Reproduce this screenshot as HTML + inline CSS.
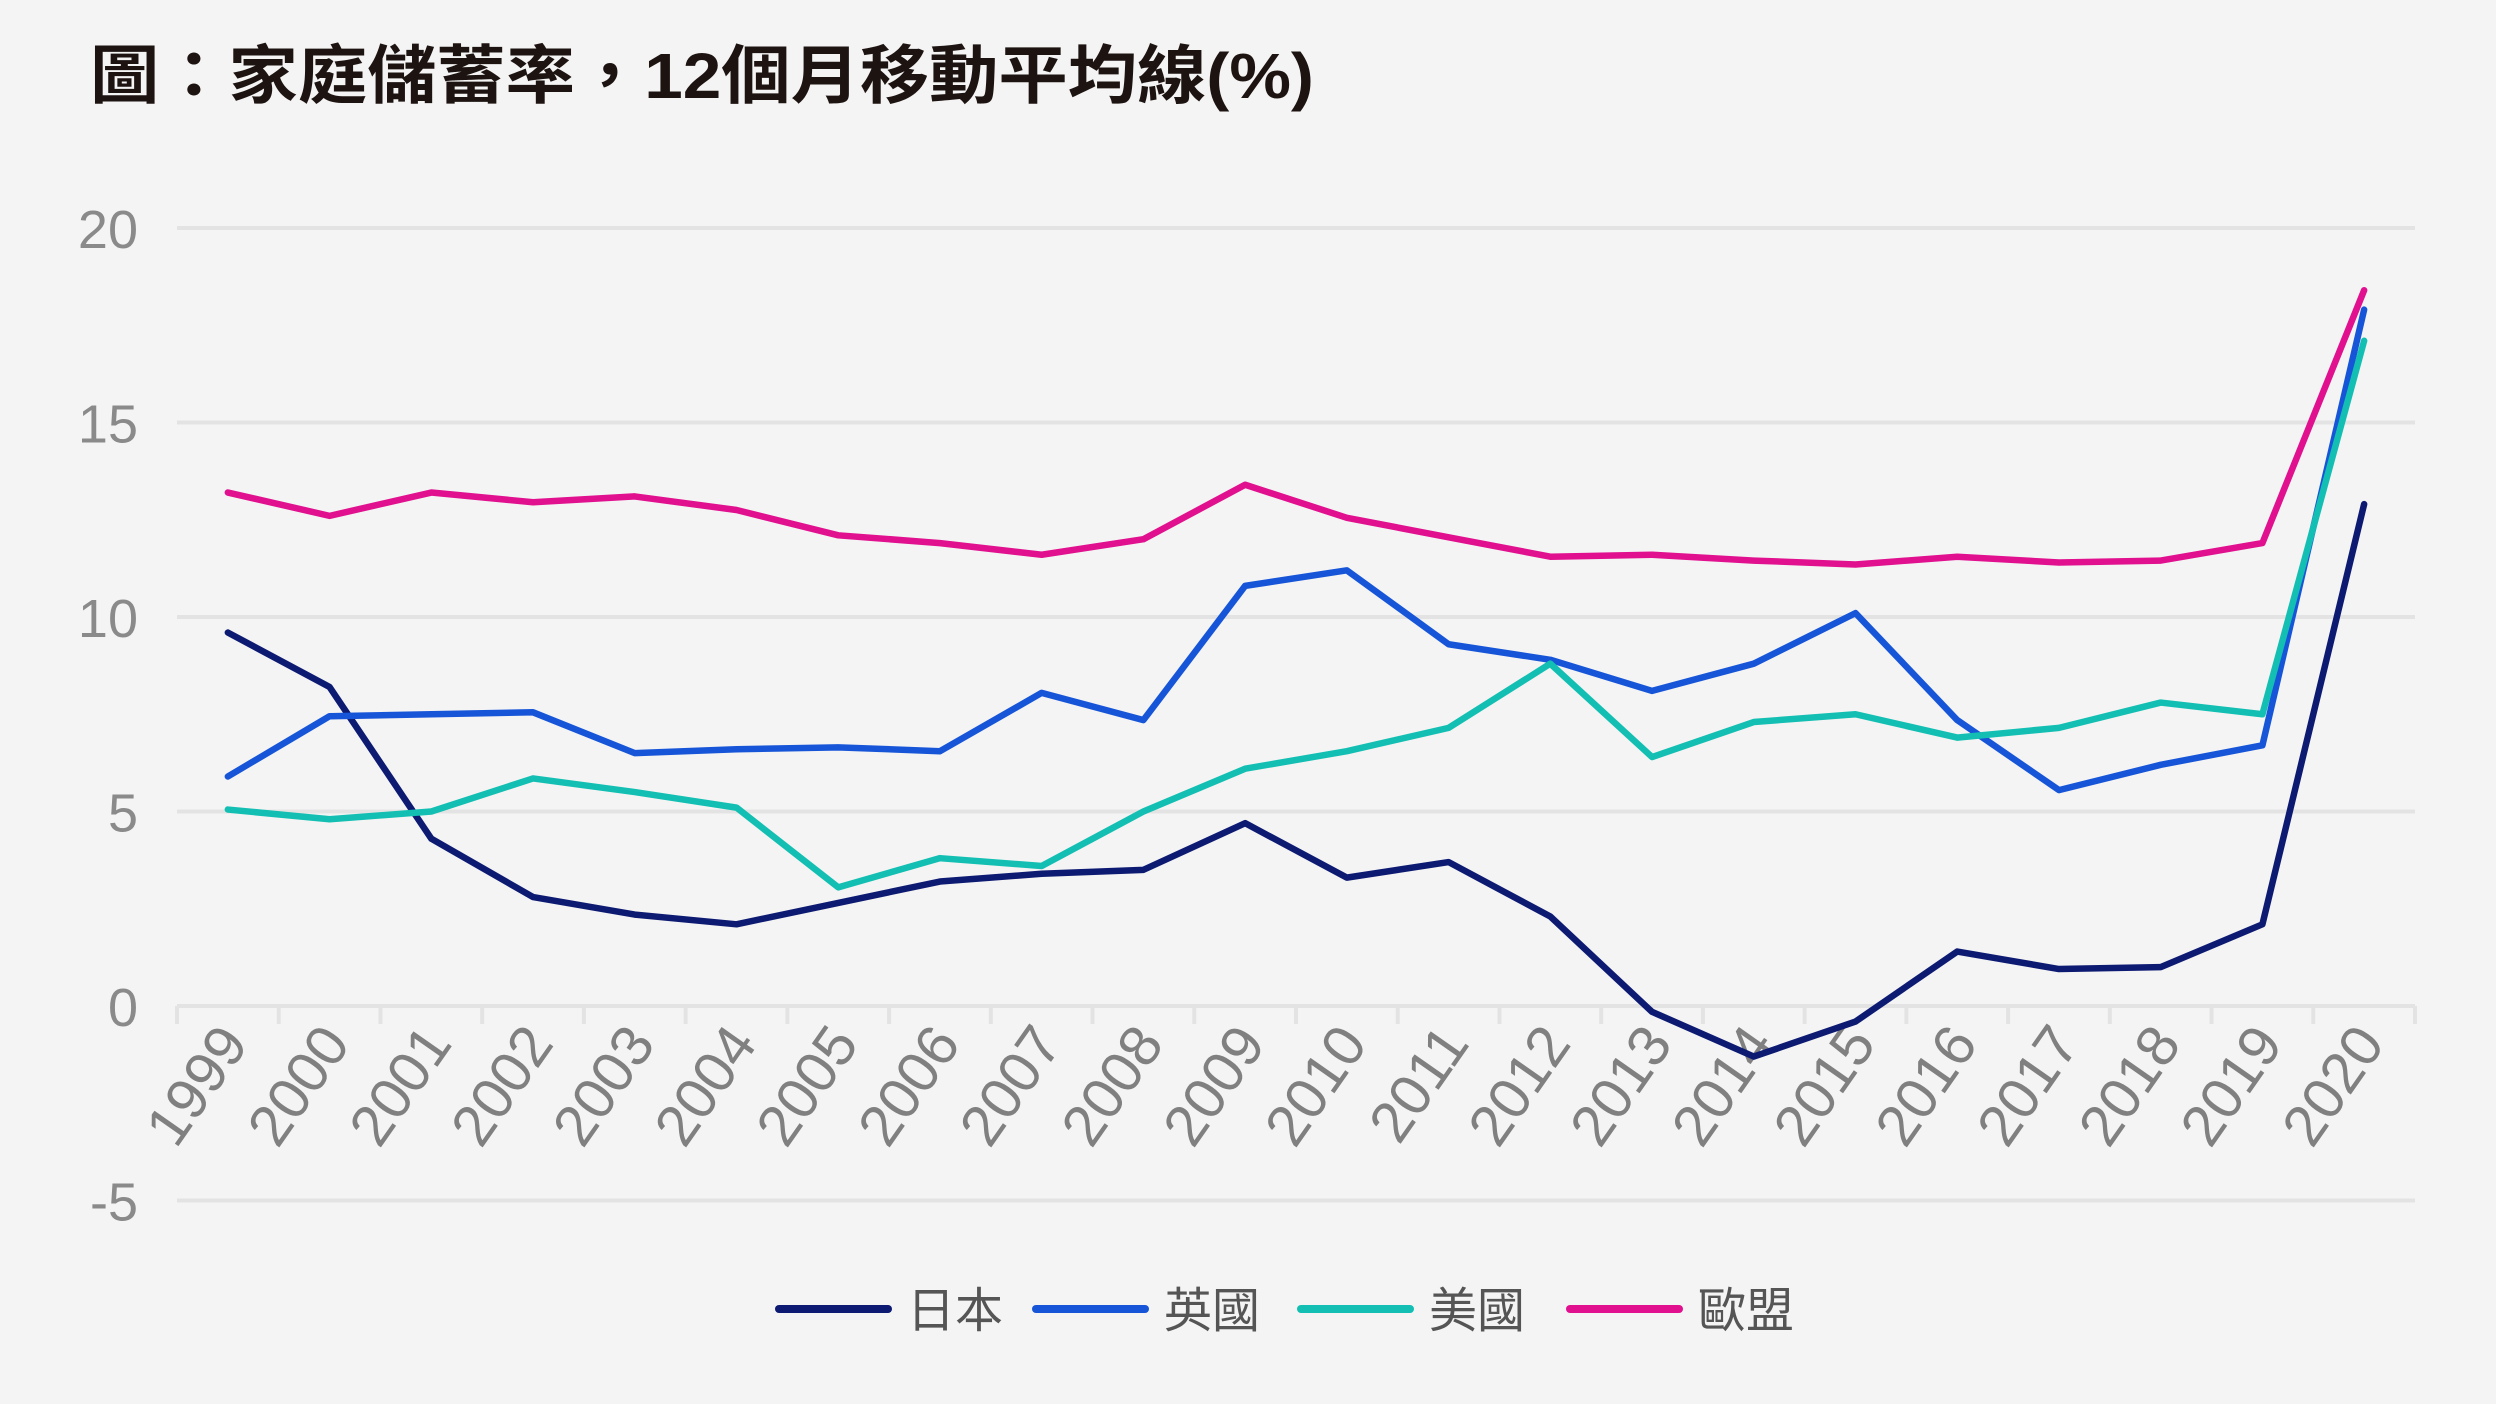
<!DOCTYPE html>
<html><head><meta charset="utf-8"><style>
body{margin:0;background:#f4f4f4;}
svg{display:block;}
</style></head><body>
<svg id="chart" width="2496" height="1404" viewBox="0 0 2496 1404" xmlns="http://www.w3.org/2000/svg" font-family="Liberation Sans, Noto Sans CJK TC, sans-serif">
<rect width="2496" height="1404" fill="#f4f4f4"/>
<text x="90" y="98" font-size="64" font-weight="bold" fill="#1d1412" textLength="1224" lengthAdjust="spacingAndGlyphs" font-family="Liberation Sans, Noto Sans CJK TC, sans-serif">圖：家庭儲蓄率，12個月移動平均線(%)</text>
<g id="grid"></g><g id="xaxis"></g><g id="series"></g><g id="legend"></g>
</svg>
<script>
const years=["1999","2000","2001","2002","2003","2004","2005","2006","2007","2008","2009","2010","2011","2012","2013","2014","2015","2016","2017","2018","2019","2020"];
const yTicks=[-5,0,5,10,15,20];
const japan=[9.6,8.2,4.3,2.8,2.35,2.1,2.65,3.2,3.4,3.5,4.7,3.3,3.7,2.3,-0.15,-1.3,-0.4,1.4,0.95,1.0,2.1,12.9];
const uk=[5.9,7.45,7.5,7.55,6.5,6.6,6.65,6.55,8.05,7.35,10.8,11.2,9.3,8.9,8.1,8.8,10.1,7.35,5.55,6.2,6.7,17.9];
const us=[5.05,4.8,5.0,5.85,5.5,5.1,3.05,3.8,3.6,5.0,6.1,6.55,7.15,8.8,6.4,7.3,7.5,6.9,7.15,7.8,7.5,17.1];
const eu=[13.2,12.6,13.2,12.95,13.1,12.75,12.1,11.9,11.6,12.0,13.4,12.55,12.05,11.55,11.6,11.45,11.35,11.55,11.4,11.45,11.9,18.4];
const seriesNames=["日本","英國","美國","歐盟"];
const seriesColors=["#0d1a72","#1655d8","#12bfb2","#e0108e"];
const NS="http://www.w3.org/2000/svg";
const L=177,R=2415,Y0=1006,PER=38.9;
const band=(R-L)/years.length;
const x=i=>L+band*(i+0.5);
const y=v=>Y0-v*PER;
function mk(t,a,p){const e=document.createElementNS(NS,t);for(const k in a)e.setAttribute(k,a[k]);p.appendChild(e);return e;}
const grid=document.getElementById('grid');
yTicks.forEach(v=>{
  const ln=mk('line',{x1:L,x2:R,y1:y(v),y2:y(v),stroke:'#e3e3e3','stroke-width':4},grid);
  
  
  const t=mk('text',{x:138,y:y(v)+20,'font-size':54,fill:'#8a8a8a','text-anchor':'end'},grid);
  t.textContent=v;
  
  
});
const xa=document.getElementById('xaxis');
for(let i=0;i<=years.length;i++){
  const tk=mk('line',{x1:L+band*i,x2:L+band*i,y1:Y0,y2:Y0+18,stroke:'#e3e3e3','stroke-width':4},xa);
  
  
}
years.forEach((yr,i)=>{
  const t=mk('text',{x:0,y:0,'font-size':58,fill:'#808080','text-anchor':'end',transform:`translate(${x(i)+22},${Y0+38}) rotate(-55)`},xa);
  t.textContent=yr;
  
  
});
const sg=document.getElementById('series');
[japan,uk,us,eu].forEach((d,k)=>{
  const p=mk('polyline',{points:d.map((v,i)=>x(i)+','+y(v)).join(' '),fill:'none',stroke:seriesColors[k],'stroke-width':6.5,'stroke-linejoin':'round','stroke-linecap':'round'},sg);
  
  
});
const lg=document.getElementById('legend');
const lx=[779,1036,1301,1570];
seriesNames.forEach((n,k)=>{
  const g=mk('g',{},lg);
  
  
  mk('line',{x1:lx[k],x2:lx[k]+109,y1:1309,y2:1309,stroke:seriesColors[k],'stroke-width':8,'stroke-linecap':'round'},g);
  const t=mk('text',{x:lx[k]+128,y:1327,'font-size':48,fill:'#555'},g);
  t.textContent=n;
});
</script>
</body></html>
